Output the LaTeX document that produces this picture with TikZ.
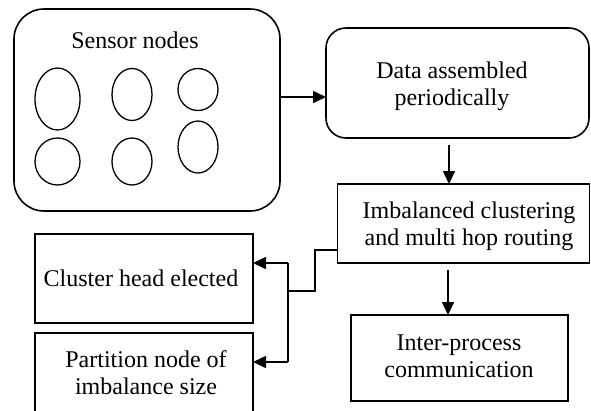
\documentclass[tikz,border=0pt]{standalone}
\usepackage{fontspec}
\setmainfont{Liberation Serif}
\usetikzlibrary{arrows.meta}
\begin{document}
\begin{tikzpicture}[x=1pt,y=-1pt,
  box/.style={draw, line width=1.6pt, inner sep=0pt, outer sep=0pt},
  txt/.style={align=center, inner sep=0pt, font=\fontsize{24}{27}\selectfont},
  arr/.style={line width=1.6pt, -{Triangle[length=13pt,width=12pt]}},
  ln/.style={line width=1.6pt},
  sn/.style={line width=1.3pt}]
\useasboundingbox[fill=white] (0,0) rectangle (591,410);
\clip (0,0) rectangle (591,410);
% boxes
\node[box, rounded corners=30pt, minimum width=266pt, minimum height=202pt] (sensor) at (147,110) {};
\node[txt, anchor=base] (sensorlbl) at (135,48) {Sensor nodes};
\node[box, rounded corners=20pt, minimum width=263pt, minimum height=110pt] (data) at (457.5,83) {};
\node[txt] (datalbl) at (452,86) {Data assembled\\periodically};
\node[box, minimum width=252pt, minimum height=79pt] (imb) at (463.5,223.5) {};
\node[txt] (imblbl) at (469,226) {Imbalanced clustering\\and multi hop routing};
\node[box, minimum width=218pt, minimum height=89pt] (cluster) at (144,278.5) {};
\node[txt] (clusterlbl) at (141,278) {Cluster head elected};
\node[box, minimum width=218pt, minimum height=104pt] (part) at (144,385) {};
\node[txt] (partlbl) at (146,373) {Partition node of\\imbalance size};
\node[box, minimum width=217pt, minimum height=86pt] (inter) at (459.5,358) {};
\node[txt] (interlbl) at (459,356) {Inter-process\\communication};
% sensor ellipses
\draw[sn] (57.5,99) ellipse [x radius=22.5, y radius=31];
\draw[sn] (132,94.5) ellipse [x radius=20, y radius=26];
\draw[sn] (198,89.5) ellipse [x radius=20, y radius=21];
\draw[sn] (57.5,161.5) ellipse [x radius=22.5, y radius=23.5];
\draw[sn] (132,161.5) ellipse [x radius=20, y radius=23.5];
\draw[sn] (198,147) ellipse [x radius=20, y radius=26];
% connectors
\coordinate (c1) at (280,97);
\draw[arr] (sensor.east |- c1) -- (data.west |- c1);
\coordinate (c2) at (449,145);
\draw[arr] (c2) -- (c2 |- imb.north);
\coordinate (c3) at (448,270);
\draw[arr] (c3) -- (c3 |- inter.north);
\coordinate (c4) at (337,250);
\coordinate (j) at (288,291);
\draw[ln] (imb.west |- c4) -- (315,250) -- (315,291) -- (j);
\coordinate (t1) at (288,263);
\coordinate (t2) at (288,362);
\draw[ln] (t1) -- (t2);
\draw[arr] (t1) -- (cluster.east |- t1);
\draw[arr] (t2) -- (part.east |- t2);
\end{tikzpicture}
\end{document}
